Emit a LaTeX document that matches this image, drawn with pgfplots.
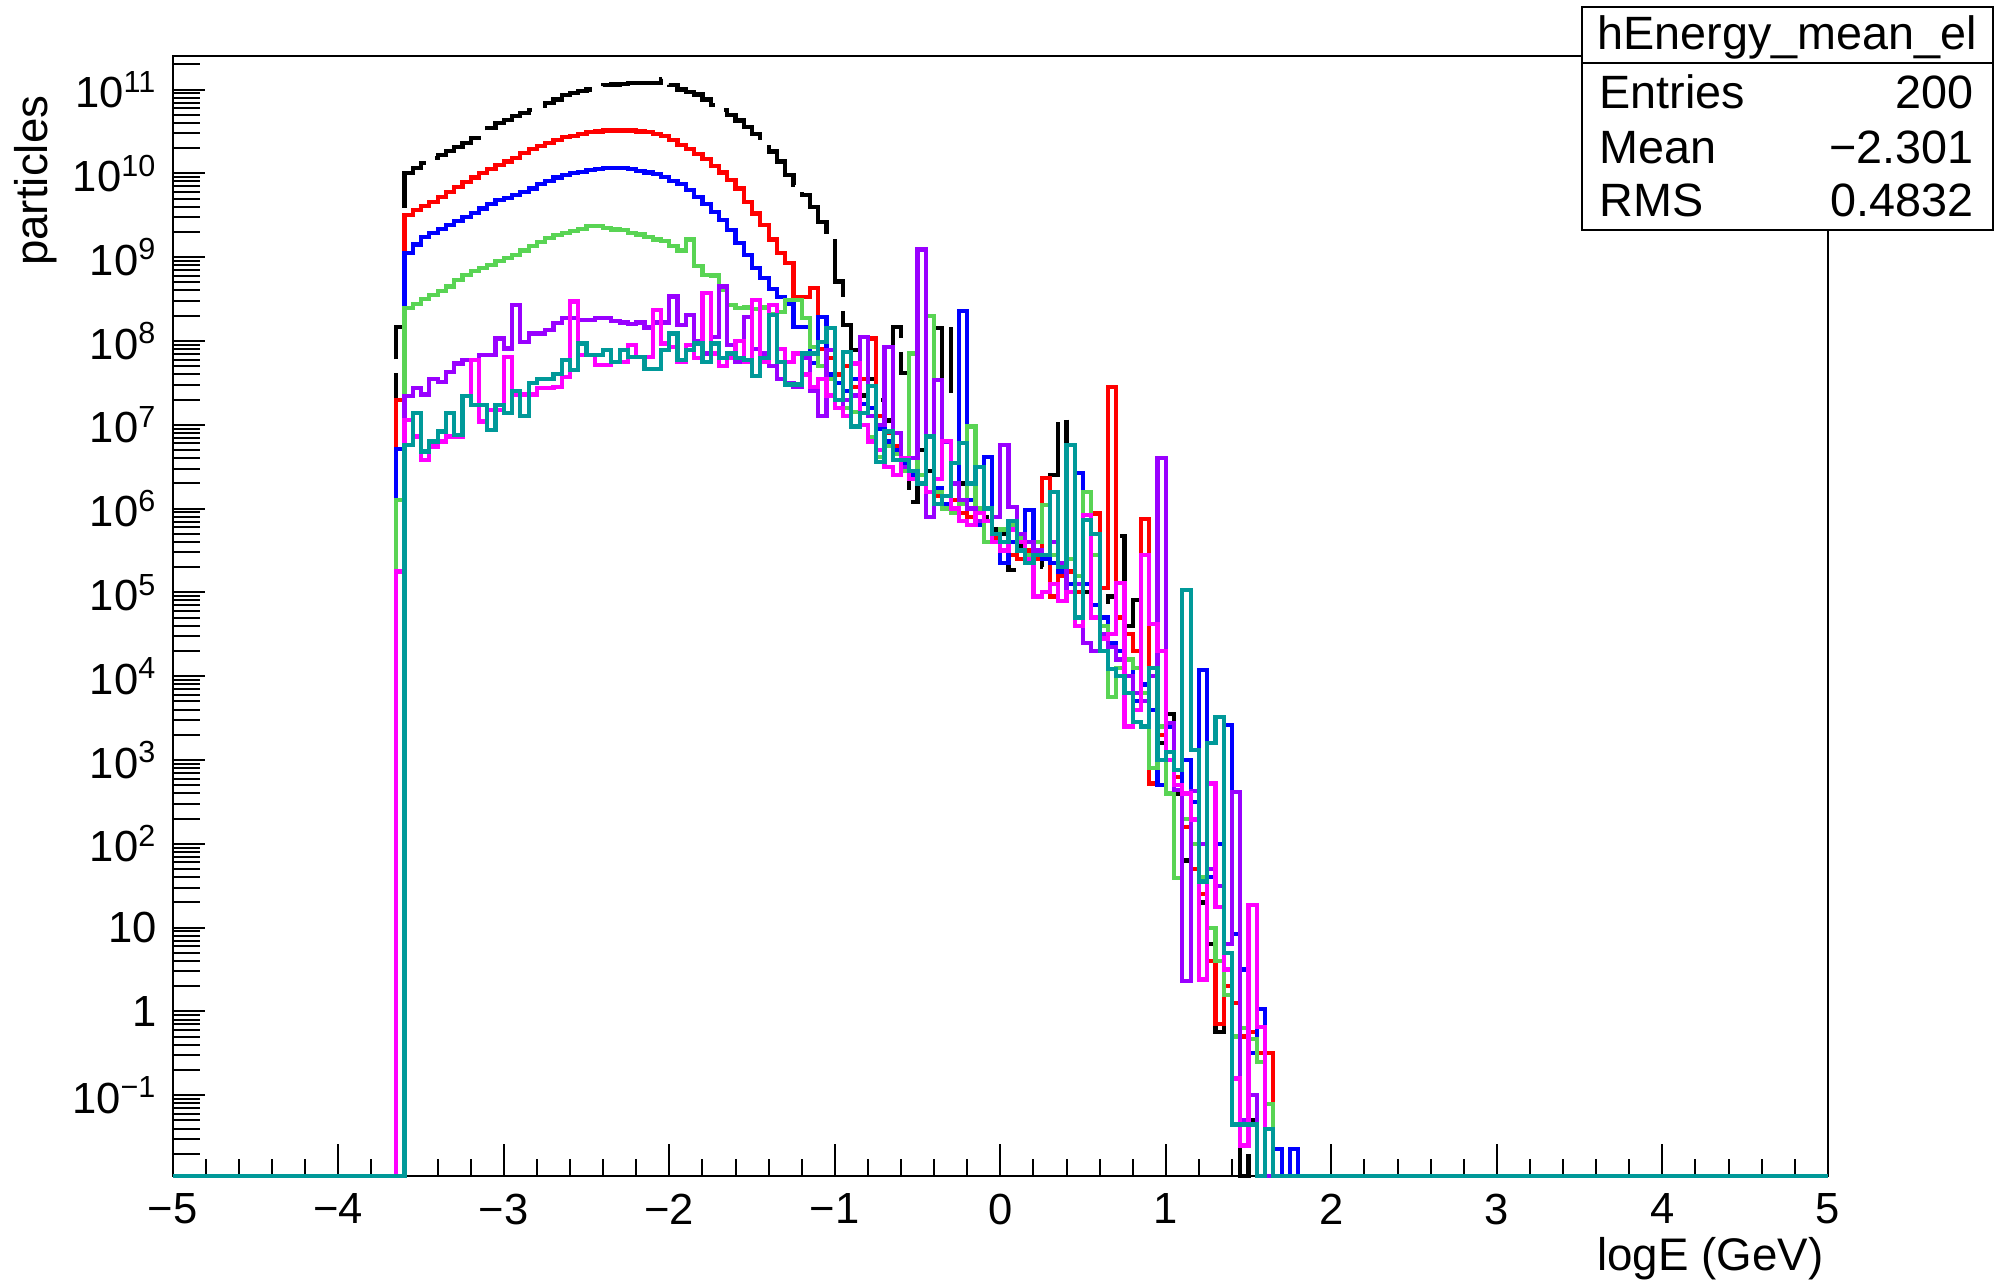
\documentclass[border=0pt]{standalone}
\usepackage{pgfplots}
\pgfplotsset{compat=1.18}
\usepackage{pgfplotstable}
\usepackage{fontspec}
\setmainfont{Liberation Sans}

\definecolor{hblack}{RGB}{0,0,0}
\definecolor{hred}{RGB}{255,0,0}
\definecolor{hblue}{RGB}{0,0,255}
\definecolor{hgreen}{RGB}{89,212,84}
\definecolor{hviolet}{RGB}{153,0,255}
\definecolor{hmagenta}{RGB}{255,0,255}
\definecolor{hteal}{RGB}{0,153,153}

\newcommand\ex[1]{\textsuperscript{#1}}

% log10(particles) per 0.05 bin of logE; -1.964 marks an empty bin (drawn on the lower frame)
\pgfplotstableread{
x      k      r      b      g      p      m      t
-5.00  -1.964 -1.964 -1.964 -1.964 -1.964 -1.964 -1.964
-3.65  8.17   7.30   6.71   6.10   -1.964 5.25   -1.964
-3.60  10.00  9.50   9.05   8.39   7.34   7.06   6.76
-3.55  10.06  9.56   9.15   8.44   7.44   6.86   7.14
-3.50  10.12  9.61   9.24   8.50   7.36   6.58   6.68
-3.45  10.18  9.66   9.29   8.55   7.55   6.74   6.80
-3.40  10.22  9.72   9.34   8.60   7.51   6.80   6.92
-3.35  10.27  9.78   9.38   8.65   7.63   6.86   7.14
-3.30  10.31  9.84   9.43   8.73   7.73   6.86   6.88
-3.25  10.36  9.90   9.48   8.79   7.77   7.34   7.34
-3.20  10.42  9.95   9.53   8.83   7.77   7.77   7.24
-3.15  10.48  10.00  9.58   8.87   7.83   7.04   7.24
-3.10  10.54  10.05  9.63   8.91   7.83   7.18   6.94
-3.05  10.60  10.10  9.68   8.95   8.03   7.18   7.24
-3.00  10.64  10.14  9.71   8.99   7.91   7.81   7.14
-2.95  10.68  10.18  9.74   9.03   8.43   7.36   7.40
-2.90  10.72  10.24  9.78   9.08   7.99   7.36   7.10
-2.85  10.76  10.29  9.82   9.13   8.09   7.36   7.50
-2.80  10.80  10.33  9.87   9.18   8.09   7.44   7.55
-2.75  10.84  10.36  9.91   9.23   8.13   7.44   7.55
-2.70  10.88  10.40  9.95   9.26   8.21   7.45   7.61
-2.65  10.93  10.43  9.98   9.29   8.27   7.57   7.77
-2.60  10.96  10.45  10.00  9.31   8.27   8.47   7.65
-2.55  10.98  10.47  10.02  9.34   8.25   7.83   7.97
-2.50  11.00  10.49  10.04  9.37   8.25   7.83   7.83
-2.45  11.03  10.50  10.05  9.37   8.27   7.71   7.83
-2.40  11.05  10.51  10.06  9.35   8.27   7.71   7.89
-2.35  11.06  10.51  10.06  9.33   8.24   7.75   7.75
-2.30  11.07  10.51  10.06  9.32   8.22   7.75   7.89
-2.25  11.08  10.51  10.05  9.29   8.20   7.95   7.81
-2.20  11.08  10.50  10.03  9.27   8.22   7.81   7.81
-2.15  11.08  10.49  10.01  9.24   8.16   7.81   7.67
-2.10  11.08  10.47  9.99   9.21   8.22   8.37   7.67
-2.05  11.13  10.45  9.96   9.19   8.22   7.97   7.89
-2.00  11.05  10.40  9.91   9.13   8.53   7.93   8.09
-1.95  11.00  10.34  9.87   9.08   8.19   7.75   7.77
-1.90  10.97  10.29  9.80   9.21   8.31   7.95   7.89
-1.85  10.94  10.23  9.72   8.89   8.00   7.80   7.97
-1.80  10.88  10.17  9.63   8.79   7.85   8.57   7.75
-1.75  10.82  10.09  9.54   8.78   8.05   7.85   7.97
-1.70  10.76  10.01  9.44   8.61   8.65   7.70   7.80
-1.65  10.70  9.92   9.32   8.43   7.95   7.80   7.85
-1.60  10.63  9.82   9.17   8.39   7.75   8.00   7.80
-1.55  10.55  9.66   9.03   8.40   8.29   7.75   7.77
-1.50  10.47  9.52   8.87   8.38   7.90   8.49   7.58
-1.45  10.38  9.38   8.75   8.40   7.85   7.75   7.80
-1.40  10.26  9.21   8.62   8.32   7.70   8.43   8.31
-1.35  10.14  9.05   8.52   8.35   7.55   7.90   7.75
-1.30  9.98   8.93   8.44   8.49   7.50   7.75   7.48
-1.25  9.86   8.52   8.17   8.49   7.45   7.85   7.48
-1.20  9.74   8.52   8.17   8.27   7.80   7.60   7.85
-1.15  9.60   8.63   7.74   7.93   7.40   7.45   7.85
-1.10  9.42   7.90   8.29   7.70   7.10   7.55   7.99
-1.05  9.25   7.80   7.60   7.55   7.89   7.35   8.15
-1.00  8.71   7.60   7.50   7.30   7.20   7.20   7.30
-0.95  8.19   7.70   7.40   7.20   7.30   7.10   7.87
-0.90  7.89   7.45   7.55   7.15   7.35   7.73   6.98
-0.85  7.35   7.55   7.25   7.00   8.05   7.00   7.14
-0.80  7.55   8.03   7.20   6.85   7.10   6.80   7.46
-0.75  7.30   7.10   6.95   6.62   7.00   6.70   6.56
-0.70  7.05   6.90   6.80   6.75   7.93   6.50   6.92
-0.65  8.17   6.75   6.70   6.65   6.90   6.40   6.58
-0.60  7.62   6.60   6.55   6.45   6.50   6.60   6.58
-0.55  6.08   6.45   6.40   7.85   6.60   6.35   6.45
-0.50  6.70   6.30   6.30   6.40   9.09   6.30   6.30
-0.45  6.45   6.20   6.20   8.30   5.90   6.20   6.86
-0.40  8.15   6.15   6.25   6.20   7.53   6.35   6.05
-0.35  7.38   6.00   6.05   6.00   6.80   6.81   6.15
-0.30  8.24   6.10   5.95   5.95   6.30   6.00   6.54
-0.25  6.30   5.95   8.36   6.05   6.10   5.85   6.78
-0.20  6.10   5.90   6.10   6.98   6.00   5.80   6.30
-0.15  6.00   5.80   5.80   6.00   5.85   5.95   6.50
-0.10  5.90   5.85   6.62   5.60   6.00   5.85   6.00
-0.05  5.75   5.65   5.70   5.70   5.90   5.60   5.70
0.00   5.70   5.60   5.35   5.75   6.76   5.50   5.60
0.05   5.27   5.45   5.60   5.80   6.02   5.75   5.85
0.10   5.55   5.40   5.65   5.65   5.70   5.60   5.50
0.15   5.40   5.50   5.98   5.45   5.60   5.40   5.35
0.20   5.45   5.40   5.45   5.60   5.50   4.95   5.45
0.25   5.30   6.36   5.40   6.04   5.45   5.00   5.45
0.30   6.40   4.95   5.35   5.45   5.60   5.10   6.20
0.35   7.08   5.20   5.25   5.35   5.35   4.90   5.30
0.40   5.30   5.25   5.10   5.40   5.00   5.00   6.76
0.45   4.60   5.00   6.42   5.20   5.10   4.60   4.70
0.50   5.00   5.10   5.10   6.20   4.40   5.92   5.86
0.55   4.85   5.94   4.85   5.45   4.30   4.70   5.70
0.60   4.70   5.05   4.70   4.60   4.50   4.45   4.30
0.65   4.95   7.45   4.40   3.75   4.35   4.50   4.09
0.70   5.67   4.70   4.30   4.10   4.20   5.11   4.00
0.75   4.60   4.50   4.20   4.20   4.00   3.40   3.80
0.80   4.91   4.30   3.70   4.10   3.80   3.60   3.45
0.85   3.90   5.88   3.90   3.80   3.70   5.45   3.40
0.90   3.60   2.72   3.60   2.90   4.00   4.62   4.10
0.95   3.20   3.30   2.70   3.40   6.60   4.30   3.00
1.00   3.55   3.00   3.40   2.60   3.44   3.00   3.10
1.05   2.60   2.80   2.70   1.59   2.64   2.70   2.88
1.10   1.80   2.20   3.00   2.30   0.36   2.60   5.03
1.15   2.00   1.70   2.50   2.00   2.63   2.29   3.12
1.20   1.30   1.40   4.07   1.60   2.00   0.38   1.55
1.25   0.80   0.60   1.60   1.00   1.70   2.72   3.20
1.30   -0.25  -0.15  2.00   0.60   1.50   1.25   3.51
1.35   0.30   0.30   3.42   0.20   0.80   0.50   0.70
1.40   -0.60  0.10   0.92   -0.30  2.62   -0.80  -1.35
1.45   -1.964 -0.30  0.50   -0.20  -1.30  -1.60  -1.35
1.50   -1.30  -0.25  -0.50  -0.33  -1.00  1.27   -1.35
1.55   -1.964 -0.50  0.03   -0.60  -1.964 -0.19  -1.964
1.60   -1.964 -0.50  -1.964 -1.10  -1.964 -1.40  -1.40
1.65   -1.964 -1.964 -1.64  -1.964 -1.964 -1.964 -1.964
1.70   -1.964 -1.964 -1.964 -1.964 -1.964 -1.964 -1.964
1.75   -1.964 -1.964 -1.64  -1.964 -1.964 -1.964 -1.964
1.80   -1.964 -1.964 -1.964 -1.964 -1.964 -1.964 -1.964
5.00   -1.964 -1.964 -1.964 -1.964 -1.964 -1.964 -1.964
}\spectra

% positions of the 2..9 sub-decade ticks on the log10 scale
\def\minorlist{-1.69897}
\foreach \m in {0.47712,0.60206,0.69897,0.77815,0.84510,0.90309,0.95424}{%
  \pgfmathsetmacro\v{-2+\m}\xdef\minorlist{\minorlist,\v}}
\foreach \k in {-1,...,10}{%
  \foreach \m in {0.30103,0.47712,0.60206,0.69897,0.77815,0.84510,0.90309,0.95424}{%
    \pgfmathsetmacro\v{\k+\m}\xdef\minorlist{\minorlist,\v}}}
\xdef\minorlist{\minorlist,11.30103}

\begin{document}
\begin{tikzpicture}[x=1mm,y=1mm]
\useasboundingbox (0,0) rectangle (200.7,128.1);
\begin{axis}[
  at={(17.28mm,10.5mm)}, anchor=south west,
  scale only axis, width=165.5mm, height=112mm,
  xmin=-5, xmax=5, ymin=-1.964, ymax=11.40,
  xtick={-5,...,5},
  xticklabels={−5,−4,−3,−2,−1,0,1,2,3,4,5},
  minor x tick num=4,
  ytick={-1,0,...,11},
  yticklabels={10\ex{−1},1,10,10\ex{2},10\ex{3},10\ex{4},10\ex{5},10\ex{6},10\ex{7},10\ex{8},10\ex{9},10\ex{10},10\ex{11}},
  extra y ticks/.expanded=\minorlist,
  extra y tick labels={},
  extra y tick style={major tick length=2.7mm},
  tick align=inside, xtick pos=bottom, ytick pos=left,
  major tick length=3.25mm, minor tick length=1.7mm,
  axis line style={line width=0.25mm},
  every tick/.style={black, line width=0.2mm},
  tick label style={font=\fontsize{12.4}{14}\selectfont},
  xticklabel style={anchor=north, inner sep=0pt, yshift=-1.7mm},
  yticklabel style={anchor=east, inner sep=0pt, xshift=-1.5mm},
  clip=false,
]
\addplot[const plot, hblack, line width=0.42mm, dash pattern=on 6.6mm off 1.4mm] table[x=x,y=k]{\spectra};
\addplot[const plot, hred, line width=0.42mm] table[x=x,y=r]{\spectra};
\addplot[const plot, hblue, line width=0.42mm] table[x=x,y=b]{\spectra};
\addplot[const plot, hgreen, line width=0.42mm] table[x=x,y=g]{\spectra};
\addplot[const plot, hviolet, line width=0.42mm] table[x=x,y=p]{\spectra};
\addplot[const plot, hmagenta, line width=0.42mm] table[x=x,y=m]{\spectra};
\addplot[const plot, hteal, line width=0.42mm] table[x=x,y=t]{\spectra};
\end{axis}

% axis titles
\node[rotate=90, anchor=east, inner sep=0pt, font=\fontsize{13}{15}\selectfont] at (3.6,118.6) {particles};
\node[anchor=east, inner sep=0pt, font=\fontsize{13}{15}\selectfont] at (182.4,2.2) {logE (GeV)};

% statistics box
\filldraw[fill=white, draw=black, line width=0.2mm] (158.17,105.1) rectangle (199.3,127.4);
\draw[line width=0.2mm] (158.17,121.83) -- (199.3,121.83);
\begin{scope}[every node/.style={inner sep=0pt, font=\fontsize{13.3}{15}\selectfont}]
\node[anchor=base] at (178.73,123.1) {hEnergy\_mean\_el};
\node[anchor=base west] at (159.9,117.27) {Entries};
\node[anchor=base east] at (197.4,117.27) {200};
\node[anchor=base west] at (159.9,111.77) {Mean};
\node[anchor=base east] at (197.4,111.77) {−2.301};
\node[anchor=base west] at (159.9,106.43) {RMS};
\node[anchor=base east] at (197.4,106.43) {0.4832};
\end{scope}
\end{tikzpicture}
\end{document}
